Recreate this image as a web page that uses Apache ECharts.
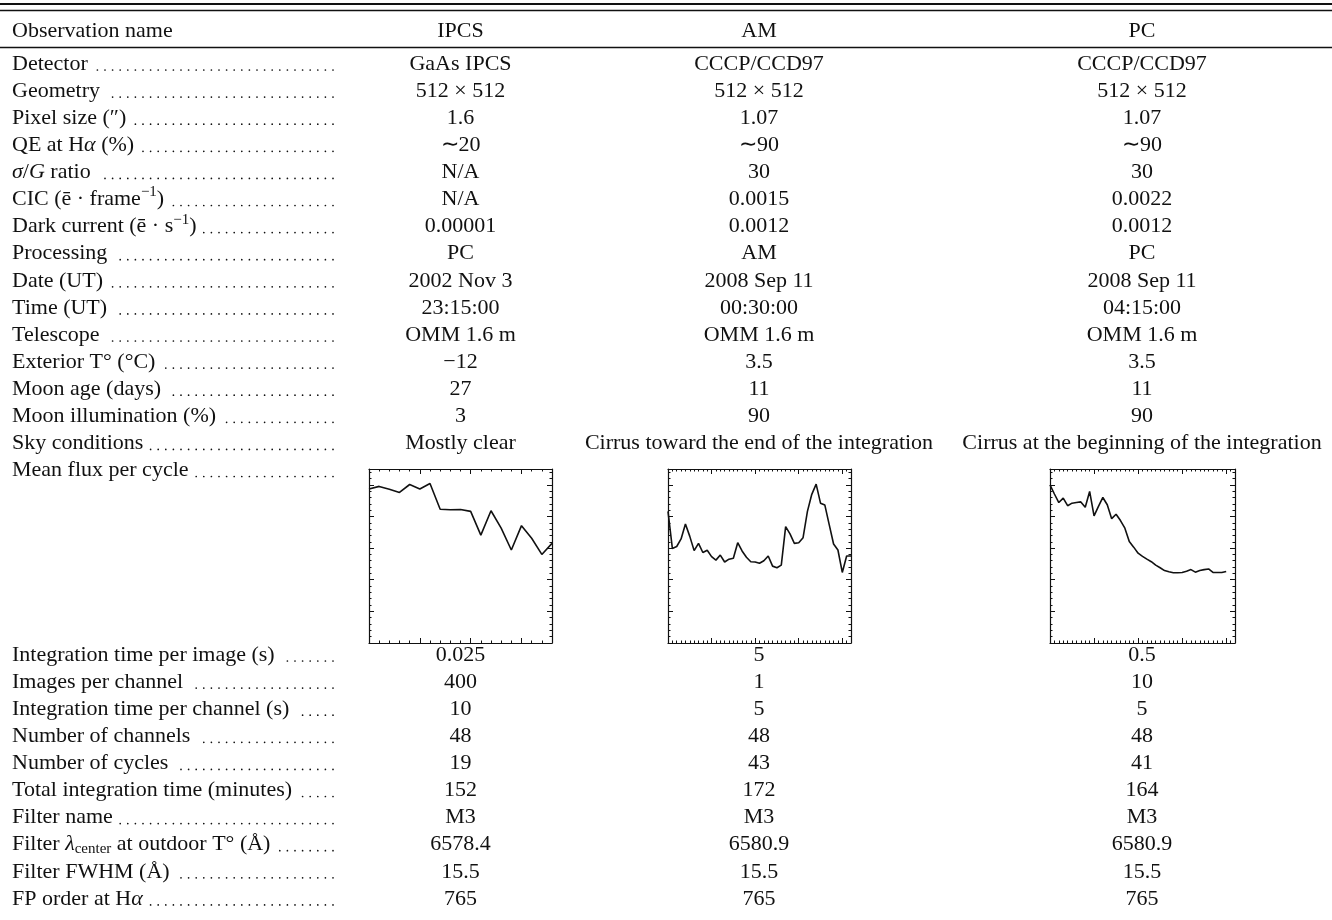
<!DOCTYPE html>
<html>
<head>
<meta charset="utf-8">
<script src="https://cdn.jsdelivr.net/npm/echarts@6/dist/echarts.min.js"></script>
<style>
  html, body { margin: 0; background: #fff; }
  #main { width: 1332px; height: 920px; }
</style>
</head>
<body>
<div id="main"></div>
<script>
// table content
const columnNames = ['IPCS', 'AM', 'PC'];
const headLabel = 'Observation name';

const topLabels = [
  'Detector', 'Geometry', 'Pixel size (″)', 'QE at H{i|α} (%)', '{i|σ}/{i|G} ratio',
  'CIC (ē · frame{sup|−1})', 'Dark current (ē · s{sup|−1})', 'Processing', 'Date (UT)',
  'Time (UT)', 'Telescope', 'Exterior T° (°C)', 'Moon age (days)', 'Moon illumination (%)',
  'Sky conditions'
];
const ipcsTop = ['GaAs IPCS', '512 × 512', '1.6', '∼20', 'N/A', 'N/A', '0.00001', 'PC',
  '2002 Nov 3', '23:15:00', 'OMM 1.6 m', '−12', '27', '3', 'Mostly clear'];
const amTop = ['CCCP/CCD97', '512 × 512', '1.07', '∼90', '30', '0.0015', '0.0012', 'AM',
  '2008 Sep 11', '00:30:00', 'OMM 1.6 m', '3.5', '11', '90', 'Cirrus toward the end of the integration'];
const pcTop = ['CCCP/CCD97', '512 × 512', '1.07', '∼90', '30', '0.0022', '0.0012', 'PC',
  '2008 Sep 11', '04:15:00', 'OMM 1.6 m', '3.5', '11', '90', 'Cirrus at the beginning of the integration'];

const fluxLabel = 'Mean flux per cycle';

const bottomLabels = [
  'Integration time per image (s)', 'Images per channel', 'Integration time per channel (s)',
  'Number of channels', 'Number of cycles', 'Total integration time (minutes)', 'Filter name',
  'Filter {i|λ}{sub|center} at outdoor T° (Å)', 'Filter FWHM (Å)', 'FP order at H{i|α}'
];
const ipcsBottom = ['0.025', '400', '10', '48', '19', '152', 'M3', '6578.4', '15.5', '765'];
const amBottom = ['5', '1', '5', '48', '43', '172', 'M3', '6580.9', '15.5', '765'];
const pcBottom = ['0.5', '10', '5', '48', '41', '164', 'M3', '6580.9', '15.5', '765'];

// mean flux per cycle (arbitrary units)
const ipcsFlux = [4.87, 4.95, 4.86, 4.76, 5.01, 4.87, 5.04, 4.23, 4.21, 4.22, 4.16, 3.41,
  4.18, 3.63, 2.94, 3.71, 3.31, 2.80, 3.15];
const amFlux = [4.16, 2.99, 3.05, 3.29, 3.76, 3.37, 2.92, 3.15, 2.86, 2.93, 2.73, 2.62, 2.78,
  2.56, 2.65, 2.68, 3.17, 2.91, 2.71, 2.57, 2.56, 2.52, 2.60, 2.75, 2.43, 2.38, 2.46, 3.68,
  3.45, 3.15, 3.17, 3.33, 4.16, 4.70, 5.02, 4.42, 4.36, 3.74, 3.13, 2.94, 2.23, 2.75, 2.75];
const pcFlux = [5.00, 4.71, 4.44, 4.58, 4.34, 4.42, 4.44, 4.46, 4.29, 4.79, 4.02, 4.32, 4.60,
  4.37, 3.93, 4.07, 3.87, 3.63, 3.21, 3.03, 2.84, 2.74, 2.65, 2.57, 2.46, 2.38, 2.29, 2.25,
  2.22, 2.22, 2.23, 2.27, 2.32, 2.24, 2.29, 2.32, 2.34, 2.23, 2.23, 2.23, 2.26];

const FONT = '"Liberation Serif", "Times New Roman", serif';
const FS = 22;
const INK = '#111';
const colX = [460.5, 759, 1142];
const labelX = 12;
const leaderEnd = 333;
const dotStep = 7.6;
const rowStep = 27.1;
const topY0 = 64;
const bottomY0 = 655;

const base = { fontSize: FS, fontFamily: FONT, fontStyle: 'normal', lineHeight: 26 };
const rich = {
  i: { fontSize: FS, fontFamily: FONT, fontStyle: 'italic', lineHeight: 26 },
  sup: { fontSize: 15, fontFamily: FONT, fontStyle: 'normal', lineHeight: 26, padding: [0, 0, 14, 0] },
  sub: { fontSize: 15, fontFamily: FONT, fontStyle: 'normal', lineHeight: 26, padding: [9, 0, 0, 0] }
};

const ctx = document.createElement('canvas').getContext('2d');
function textWidth(str) {
  let w = 0;
  str.replace(/\{(\w+)\|([^}]*)\}|([^{]+)/g, (m, key, inner, plain) => {
    const st = key ? rich[key] : base;
    ctx.font = st.fontStyle + ' ' + st.fontSize + 'px ' + FONT;
    w += ctx.measureText(key ? inner : plain).width;
    return m;
  });
  return w;
}

function textEl(str, x, y, align) {
  return {
    type: 'text',
    silent: true,
    style: Object.assign({
      text: str, x: x, y: y, fill: INK,
      align: align, verticalAlign: 'middle', rich: rich
    }, base)
  };
}

function leaderEl(labelStr, y) {
  const end = labelX + textWidth(labelStr) + 7;
  const n = Math.floor((leaderEnd - end) / dotStep);
  const start = leaderEnd - n * dotStep;
  return {
    type: 'line',
    silent: true,
    shape: { x1: start, y1: y + 6, x2: leaderEnd + 0.5, y2: y + 6 },
    style: { stroke: INK, lineWidth: 1.7, lineCap: 'round', lineDash: [0, dotStep] }
  };
}

function ruleEl(y, w) {
  return {
    type: 'line', silent: true,
    shape: { x1: 0, y1: y, x2: 1332, y2: y },
    style: { stroke: INK, lineWidth: w }
  };
}

const elements = [ruleEl(4, 2.2), ruleEl(10.5, 1.3), ruleEl(47.5, 1.3)];
elements.push(textEl(headLabel, labelX, 31, 'left'));
columnNames.forEach((c, k) => elements.push(textEl(c, colX[k], 31, 'center')));

function addRows(labels, cols, y0) {
  labels.forEach((lab, r) => {
    const y = y0 + r * rowStep;
    elements.push(textEl(lab, labelX, y, 'left'));
    elements.push(leaderEl(lab, y));
    cols.forEach((vals, k) => elements.push(textEl(vals[r], colX[k], y, 'center')));
  });
}
addRows(topLabels, [ipcsTop, amTop, pcTop], topY0);
const fluxY = topY0 + topLabels.length * rowStep;
elements.push(textEl(fluxLabel, labelX, fluxY, 'left'));
elements.push(leaderEl(fluxLabel, fluxY));
addRows(bottomLabels, [ipcsBottom, amBottom, pcBottom], bottomY0);

// small flux plots
const boxes = [
  { left: 369, width: 183 },
  { left: 668, width: 183 },
  { left: 1050, width: 185 }
];
const fluxes = [ipcsFlux, amFlux, pcFlux];
const xMax = [18, 42, 42];
const xStep = [5, 10, 10];
const xMinor = [5, 10, 10];

function axisCommon(extra) {
  return Object.assign({
    type: 'value',
    axisLine: { show: true, onZero: false, lineStyle: { color: INK, width: 1.2 } },
    axisTick: { show: true, inside: true, length: 5, lineStyle: { color: INK, width: 1 } },
    minorTick: { show: true, length: 2.5, lineStyle: { color: INK, width: 1 } },
    axisLabel: { show: false },
    splitLine: { show: false },
    minorSplitLine: { show: false }
  }, extra);
}

const grids = [], xAxes = [], yAxes = [], series = [];
boxes.forEach((b, g) => {
  grids.push({ left: b.left, top: 469, width: b.width, height: 174 });
  ['bottom', 'top'].forEach(pos => {
    const a = axisCommon({ gridIndex: g, position: pos, min: 0, max: xMax[g], interval: xStep[g] });
    a.minorTick.splitNumber = xMinor[g];
    xAxes.push(a);
  });
  ['left', 'right'].forEach(pos => {
    const a = axisCommon({ gridIndex: g, position: pos, min: 0, max: 5.5, interval: 1 });
    a.minorTick.splitNumber = 5;
    yAxes.push(a);
  });
  series.push({
    type: 'line',
    xAxisIndex: g * 2,
    yAxisIndex: g * 2,
    data: fluxes[g].map((v, i) => [i, v]),
    symbol: 'none',
    silent: true,
    lineStyle: { color: INK, width: 1.6 }
  });
});

const chart = echarts.init(document.getElementById('main'));
chart.setOption({
  backgroundColor: '#fff',
  animation: false,
  grid: grids,
  xAxis: xAxes,
  yAxis: yAxes,
  series: series,
  graphic: { elements: elements }
});
</script>
</body>
</html>
